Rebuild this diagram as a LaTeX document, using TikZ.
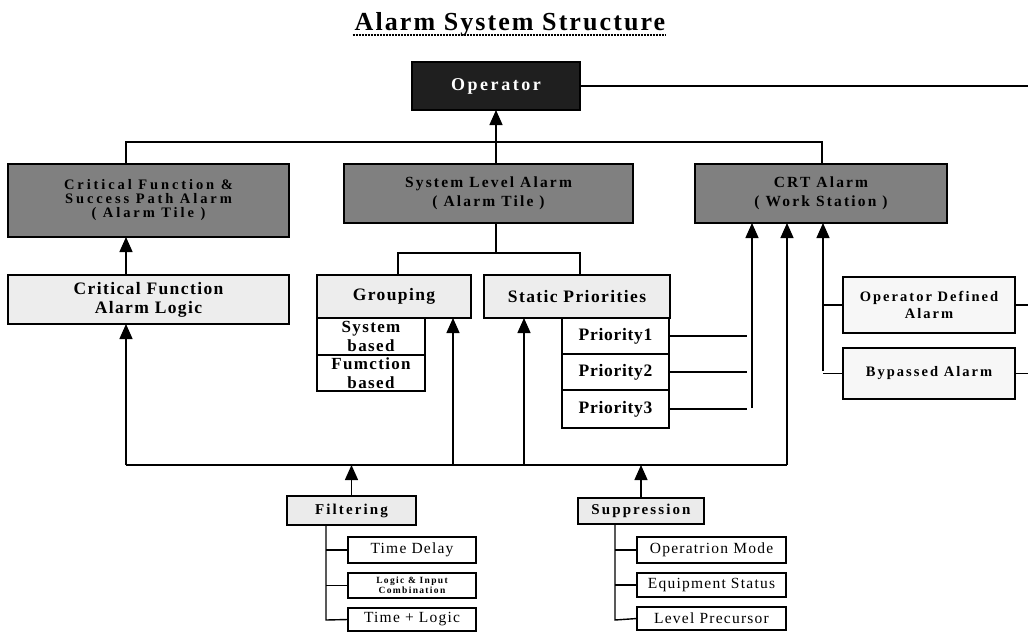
\documentclass[tikz,border=0pt]{standalone}
\usepackage{fontspec}
\setmainfont{Liberation Serif}
\newfontfamily\spc[LetterSpace=8]{Liberation Serif}
\newfontfamily\spw[LetterSpace=4]{Liberation Serif}
\newfontfamily\spx[LetterSpace=14]{Liberation Serif}
\newfontfamily\spy[LetterSpace=20]{Liberation Serif}
\usetikzlibrary{arrows.meta}
\begin{document}
\begin{tikzpicture}[x=1pt,y=-1pt,
 box/.style={draw=black,line width=1.5pt,inner sep=0pt,outer sep=0pt,anchor=north west,align=center},
 dark/.style={box,fill=black!88,text=white,font=\spx\bfseries\fontsize{18}{19}\selectfont},
 mid/.style={box,fill=black!50,font=\spx\bfseries\fontsize{15.5}{19}\selectfont},
 light/.style={box,fill=black!7,font=\spc\bfseries\fontsize{17.5}{19}\selectfont},
 small/.style={box,fill=black!8,font=\spx\bfseries\fontsize{15}{16}\selectfont},
 pale/.style={box,fill=black!3,font=\spx\bfseries\fontsize{14.5}{17}\selectfont},
 plain/.style={box,fill=white,font=\spw\bfseries\fontsize{17.5}{18}\selectfont},
 item/.style={box,fill=white,font=\spc\fontsize{15.5}{16}\selectfont},
 wire/.style={line width=1.4pt},
 arr/.style={wire,-{Triangle[width=13pt,length=15pt]}}]
\useasboundingbox (0,0) rectangle (1028,632);
% title
\node[font=\spc\bfseries\fontsize{26}{28}\selectfont,inner sep=0pt,anchor=base] (title) at (510,30) {Alarm System Structure};
\draw[line width=2pt,densely dotted] (title.base west) ++(-2,5) coordinate (ul) -- (ul -| title.base east);
% top level
\node[dark,minimum width=168pt,minimum height=48pt] (op) at (412,62) {Operator};
\node[mid,minimum width=281pt,minimum height=73pt,font=\spy\bfseries\fontsize{14.5}{14}\selectfont] (cf) at (8,164) {Critical Function \&\\Success Path Alarm\\( Alarm Tile )};
\node[mid,minimum width=289pt,minimum height=59pt] (sl) at (344,164) {System Level Alarm\\( Alarm Tile )};
\node[mid,minimum width=252pt,minimum height=59pt] (crt) at (695,164) {CRT Alarm\\( Work Station )};
% second level
\node[light,minimum width=281pt,minimum height=49pt] (cfl) at (8,275) {Critical Function\\Alarm Logic};
\node[light,minimum width=154pt,minimum height=43pt] (grp) at (317,275) {Grouping};
\node[light,minimum width=186pt,minimum height=43pt] (sp) at (484,275) {Static Priorities};
\node[plain,minimum width=108pt,minimum height=37pt,font=\spc\bfseries\fontsize{17}{18.5}\selectfont] (sb) at (317,318) {System\\based};
\node[plain,minimum width=108pt,minimum height=36pt,font=\spc\bfseries\fontsize{17}{18.5}\selectfont] (fb) at (317,355) {Fumction\\based};
\node[plain,minimum width=107pt,minimum height=36pt] (p1) at (562,318) {Priority1};
\node[plain,minimum width=107pt,minimum height=36pt] (p2) at (562,354) {Priority2};
\node[plain,minimum width=107pt,minimum height=38pt] (p3) at (562,390) {Priority3};
\node[pale,minimum width=172pt,minimum height=56pt] (odef) at (843,277) {Operator Defined\\Alarm};
\node[pale,minimum width=172pt,minimum height=51pt] (byp) at (843,348) {Bypassed Alarm};
% bottom
\node[small,minimum width=129pt,minimum height=29pt] (filt) at (287,496) {Filtering};
\node[item,minimum width=128pt,minimum height=26pt] (td) at (348,537) {Time Delay};
\node[box,fill=white,minimum width=128pt,minimum height=25pt,font=\spx\bfseries\fontsize{9.5}{10}\selectfont] (lic) at (348,573) {Logic \& Input\\Combination};
\node[item,minimum width=128pt,minimum height=23pt] (tl) at (348,608) {Time + Logic};
\node[small,minimum width=126pt,minimum height=26pt] (sup) at (578,498) {Suppression};
\node[item,minimum width=149pt,minimum height=26pt] (om) at (637,537) {Operatrion Mode};
\node[item,minimum width=149pt,minimum height=24pt] (es) at (637,573) {Equipment Status};
\node[item,minimum width=149pt,minimum height=23pt] (lp) at (637,607) {Level Precursor};
% coordinates
\coordinate (busL) at (126,142);
\coordinate (busR) at (822,142);
\coordinate (gx) at (398,253);
\coordinate (sx) at (580,253);
\coordinate (bL) at (126,465);
\coordinate (bR) at (787,465);
\coordinate (gA) at (453,465);
\coordinate (sA) at (524,465);
\coordinate (pe) at (747,402);
\coordinate (pv) at (752,408);
\coordinate (rv) at (823,371);
\coordinate (edge) at (1028,89);
\coordinate (fv) at (326,620);
\coordinate (sv) at (615,620);
% top connectors
\draw[wire] (cf.north -| busL) -- (busL) -- (busR) -- (crt.north -| busR);
\draw[arr] (op.south |- busL) -- (op.south);
\draw[wire] (sl.north -| op.south) -- (op.south |- busL);
\draw[wire] (op.east) -- (op.east -| edge);
\draw[arr] (cfl.north -| busL) -- (cf.south -| busL);
% system level split
\draw[wire] (sl.south -| op.south) -- (op.south |- gx);
\draw[wire] (grp.north -| gx) -- (gx) -- (sx) -- (sp.north -| sx);
% bottom bus
\draw[wire] (bL) -- (bR);
\draw[arr] (bL) -- (cfl.south -| bL);
\draw[arr] (gA) -- (grp.south -| gA);
\draw[arr] (sA) -- (sp.south -| sA);
\draw[arr] (bR) -- (crt.south -| bR);
\draw[arr] (filt.north) -- (filt.north |- bL);
\draw[arr] (sup.north) -- (sup.north |- bL);
% priorities
\draw[wire] (p1.east) -- (p1.east -| pe);
\draw[wire] (p2.east) -- (p2.east -| pe);
\draw[wire] (p3.east) -- (p3.east -| pe);
\draw[arr] (pv) -- (crt.south -| pv);
% right branch
\draw[arr] (rv) -- (crt.south -| rv);
\draw[wire] (odef.west -| rv) -- (odef.west);
\draw[wire] (byp.west -| rv) -- (byp.west);
\draw[wire] (odef.east) -- (odef.east -| edge);
\draw[wire] (byp.east) -- (byp.east -| edge);
% filtering tree
\draw[wire] (filt.south -| fv) -- (fv) -- (tl.west);
\draw[wire] (td.west -| fv) -- (td.west);
\draw[wire] (lic.west -| fv) -- (lic.west);
% suppression tree
\draw[wire] (sup.south -| sv) -- (sv) -- (lp.west);
\draw[wire] (om.west -| sv) -- (om.west);
\draw[wire] (es.west -| sv) -- (es.west);
\end{tikzpicture}
\end{document}
